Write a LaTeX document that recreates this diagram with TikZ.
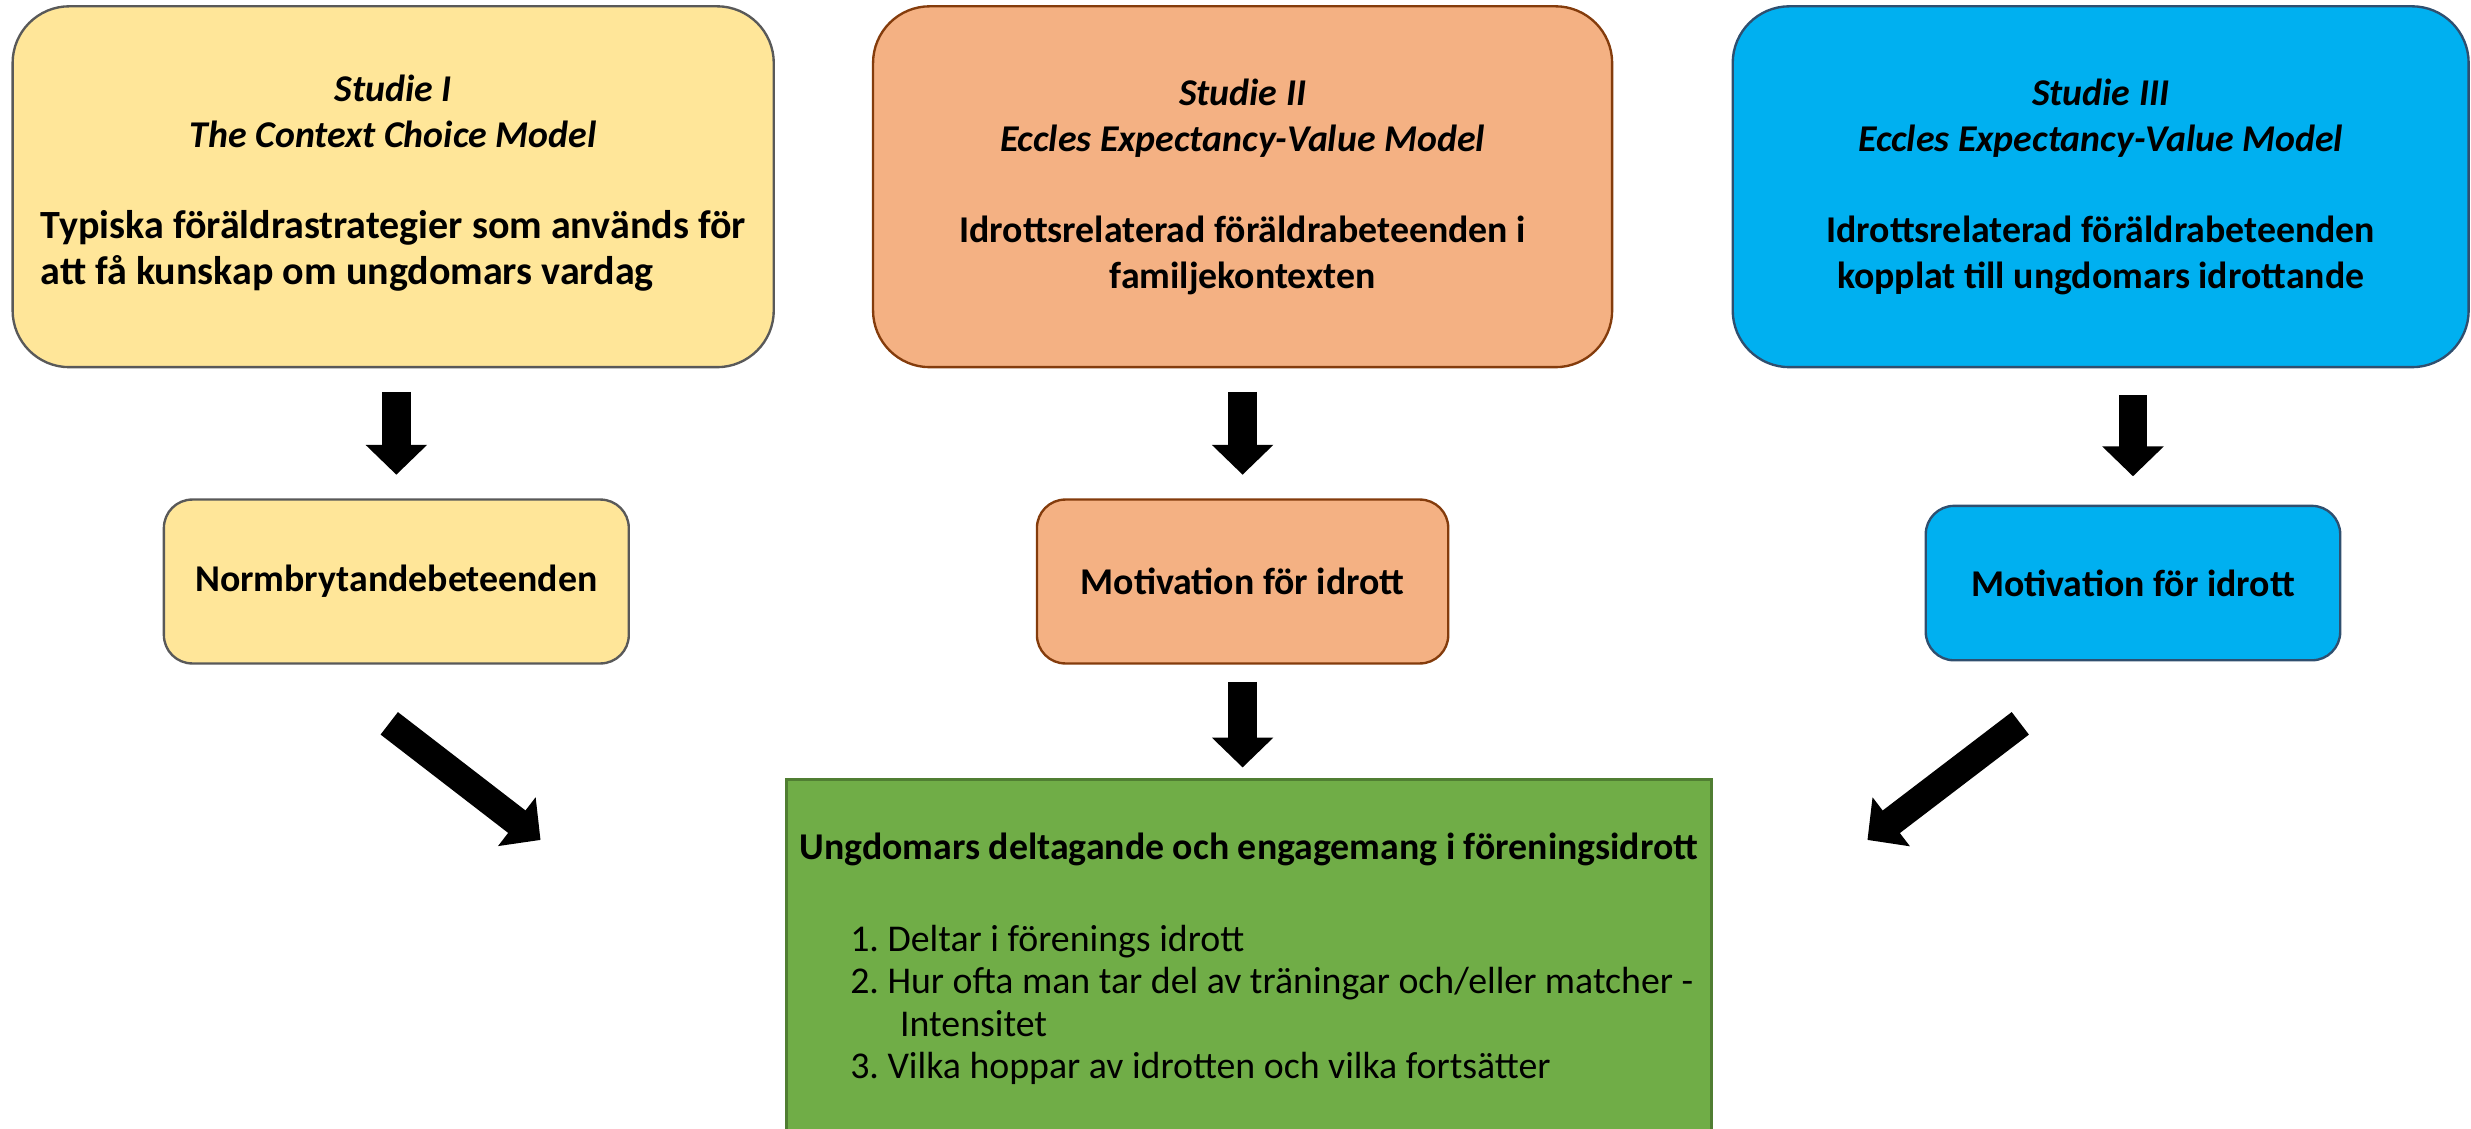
\documentclass[tikz,border=0pt]{standalone}
\usepackage{fontspec}
\setmainfont{Carlito}
\usetikzlibrary{arrows.meta}

\definecolor{studyellow}{HTML}{FFE699}
\definecolor{studorange}{HTML}{F4B183}
\definecolor{studblue}{HTML}{00B0F0}
\definecolor{resgreen}{HTML}{70AD47}
\definecolor{linegray}{HTML}{595959}
\definecolor{linebrown}{HTML}{843C0C}
\definecolor{lineblue}{HTML}{2F4F6F}
\definecolor{linegreen}{HTML}{507E32}

\tikzset{every picture/.style={line width=0.75pt}}
\tikzset{
  studybox/.style={draw, rounded corners=18pt, inner sep=0pt, align=center,
    minimum height=114.5pt, font=\fontsize{12}{14.5}\selectfont\bfseries},
  factorbox/.style={draw, rounded corners=9pt, inner sep=0pt, align=center,
    font=\fontsize{12}{14.5}\selectfont\bfseries},
  bigarrow/.style={line width=9pt, -{Triangle[width=19pt,length=9.5pt]}}
}

\begin{document}
\begin{tikzpicture}[x=0.5pt,y=0.5pt,yscale=-1,xscale=1]
\useasboundingbox (0,0) rectangle (1568,716);

%Shape: Rounded Rect [studie I]
\node[studybox, fill=studyellow, draw=linegray, minimum width=241.5pt] (studie1) at (249.5,118.5)
  {\textit{Studie I}\\\textit{The Context Choice Model}\\[14.5pt]%
   {\fontsize{12.7}{14.5}\selectfont\begin{tabular}[t]{@{}l@{}}Typiska föräldrastrategier som används för\\att få kunskap om ungdomars vardag\end{tabular}}};
%Shape: Rounded Rect [studie II]
\node[studybox, fill=studorange, draw=linebrown, minimum width=234.5pt] (studie2) at (788.5,118.5)
  {\textit{Studie II}\\\textit{Eccles Expectancy-Value Model}\\[14.5pt]%
   Idrottsrelaterad föräldrabeteenden i\\familjekontexten};
%Shape: Rounded Rect [studie III]
\node[studybox, fill=studblue, draw=lineblue, minimum width=233.5pt] (studie3) at (1333,118.5)
  {\textit{Studie III}\\\textit{Eccles Expectancy-Value Model}\\[14.5pt]%
   Idrottsrelaterad föräldrabeteenden\\kopplat till ungdomars idrottande};

%Shape: Rounded Rect [outcomes]
\node[factorbox, fill=studyellow, draw=linegray, minimum width=147.5pt, minimum height=52pt] (norm) at (251.5,369) {Normbrytandebeteenden};
\node[factorbox, fill=studorange, draw=linebrown, minimum width=130.5pt, minimum height=52pt] (motiv2) at (788.5,369) {Motivation för idrott};
\node[factorbox, fill=studblue, draw=lineblue, minimum width=131.5pt, minimum height=49pt] (motiv3) at (1353.5,370) {Motivation för idrott};

%Shape: Rectangle [result]
\node[draw=linegreen, fill=resgreen, anchor=north, minimum width=293.5pt, inner xsep=0pt, inner ysep=17pt,
  text depth=85pt, align=center, font=\fontsize{12}{13.5}\selectfont] (resultat) at (792.5,494)
  {\textbf{Ungdomars deltagande och engagemang i föreningsidrott}\\[15.5pt]%
   \hspace*{14.5pt}\begin{tabular}[t]{@{}l@{\ }l@{}}
   1.&Deltar i förenings idrott\\
   2.&Hur ofta man tar del av träningar och/eller matcher -\\
     &\hspace{4pt}Intensitet\\
   3.&Vilka hoppar av idrotten och vilka fortsätter
   \end{tabular}};

% Coordinates for the slanted arrows
\coordinate (norm out) at (247,459);
\coordinate (res left) at (343,533);
\coordinate (motiv out) at (1282,459);
\coordinate (res right) at (1185,533);

%Straight Lines
\draw[bigarrow, shorten <=7.5pt, shorten >=7.5pt] (norm.north |- studie1.south) -- (norm.north);
\draw[bigarrow, shorten <=7.5pt, shorten >=7.5pt] (studie2.south) -- (motiv2.north);
\draw[bigarrow, shorten <=8.5pt, shorten >=9pt] (motiv3.north |- studie3.south) -- (motiv3.north);
\draw[bigarrow, shorten <=5.5pt, shorten >=3.5pt] (motiv2.south) -- (motiv2.south |- resultat.north);
\draw[bigarrow] (norm out) -- (res left);
\draw[bigarrow] (motiv out) -- (res right);

\end{tikzpicture}
\end{document}
